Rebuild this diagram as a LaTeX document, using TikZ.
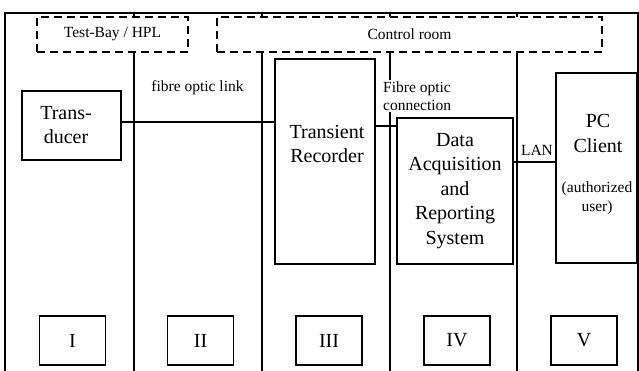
\documentclass[tikz,border=0pt]{standalone}
\usepackage{fontspec}
\setmainfont{Liberation Serif}
\begin{document}
\begin{tikzpicture}[x=1pt,y=-1pt,
  col/.style={draw, line width=1.8pt},
  box/.style={draw, line width=1.6pt, inner sep=0pt},
  dbox/.style={draw, fill=white, line width=1.6pt, dash pattern=on 8pt off 5pt,
               font=\fontsize{15.5}{18.5}\selectfont},
  big/.style={font=\fontsize{20}{24.5}\selectfont, align=center, inner sep=0pt},
  small/.style={font=\fontsize{15.5}{18.5}\selectfont, inner sep=1pt},
  link/.style={line width=1.4pt}]
\clip (0,0) rectangle (639,371);
\fill[white] (0,0) rectangle (639,371);
% columns
\draw[col] (5,13) rectangle (134,380);
\draw[col] (134,13) rectangle (262,380);
\draw[col] (262,13) rectangle (390,380);
\draw[col] (390,13) rectangle (517,380);
\draw[col] (517,13) rectangle (638,380);
% dashed zones
\node[dbox, minimum width=151, minimum height=35] (tb) at (112.5,34.5) {Test-Bay / HPL};
\node[dbox, minimum width=385, minimum height=35] (cr) at (409.5,34.5) {Control room};
% main boxes
\node[box, minimum width=99, minimum height=69] (td) at (71.5,125.5) {};
\node[big] (tdT) at (66,125) {Trans-\\ducer};
\node[box, minimum width=100, minimum height=205] (tr) at (325,161.5) {};
\node[big] (trT) at (327,144) {Transient\\Recorder};
\node[box, big, minimum width=116, minimum height=146] (dars) at (455,191)
  {Data\\Acquisition\\and\\Reporting\\System};
\node[box, minimum width=81, minimum height=190] (pc) at (596.5,168) {};
\node[big] (pcT) at (598,133.5) {PC\\Client};
\node[small, align=center] (pcU) at (597,198.5) {(authorized\\user)};
% labels
\node[small] (fol) at (197.5,88) {fibre optic link};
\node[small, fill=white, align=left, anchor=west] (foc) at (382,96) {Fibre optic\\connection};
\node[small] (lan) at (537,150) {LAN};
% connectors
\draw[link] (td.east |- 0,122) -- (tr.west |- 0,122);
\draw[link] (tr.east |- 0,126) -- (dars.west |- 0,126);
\draw[link] (dars.east |- 0,162) -- (pc.west |- 0,162);
% roman numerals
\foreach \n/\x/\t in {r1/72.5/I, r2/200.5/II, r3/329/III, r4/457/IV, r5/584/V}
  \node[box, big, minimum width=66, minimum height=49] (\n) at (\x,340.5) {\t};
\end{tikzpicture}
\end{document}
